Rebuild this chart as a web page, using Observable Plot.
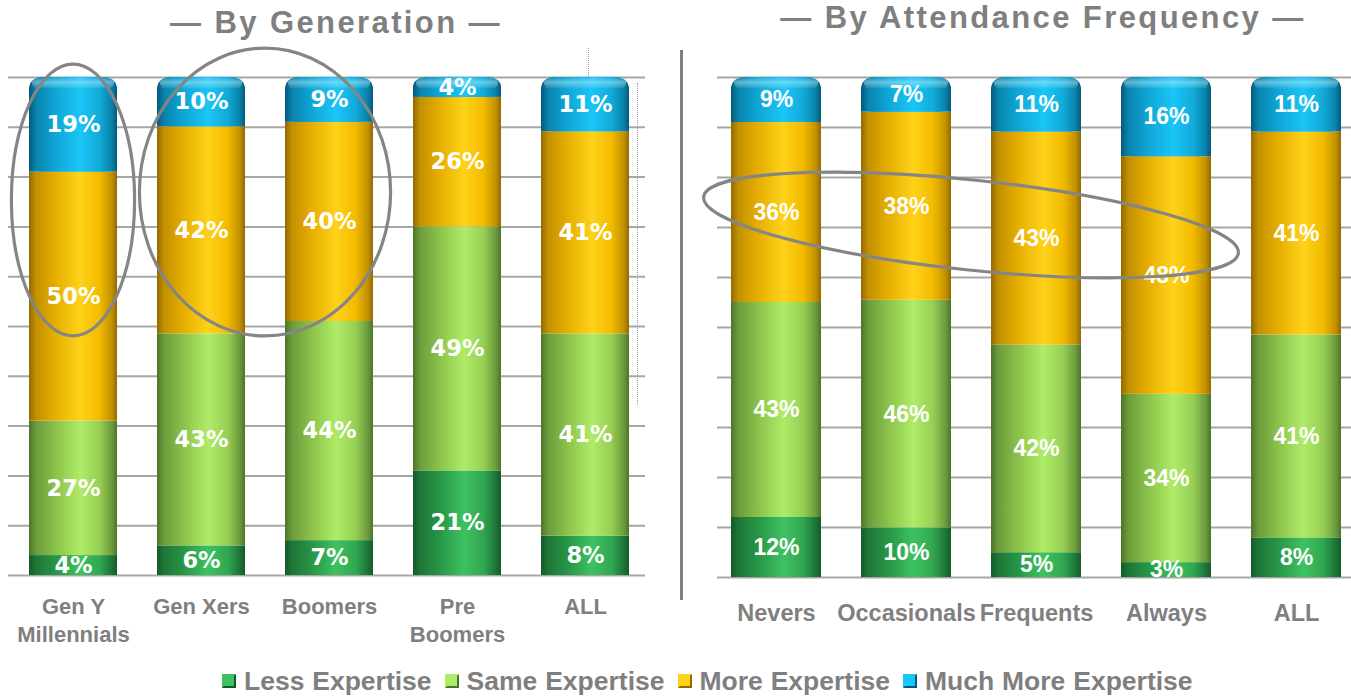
<!DOCTYPE html>
<html>
<head>
<meta charset="utf-8">
<script src="https://cdn.jsdelivr.net/npm/d3@7"></script>
<script src="https://cdn.jsdelivr.net/npm/@observablehq/plot@0.6"></script>
<style>
  html, body { margin: 0; padding: 0; background: #fff; overflow: hidden; }
  #root { position: relative; width: 1351px; height: 696px; overflow: hidden; background: #fff; }
  .title { position: absolute; font: bold 31px "Liberation Sans", Arial, sans-serif; line-height: 31px;
           color: #7f7f7f; letter-spacing: 2.4px; white-space: nowrap; transform: translateX(-50%); }
  .panel { position: absolute; top: 0; }
  #sep { position: absolute; left: 680px; top: 50px; width: 3px; height: 550px; background: #808080; }
  .dot { position: absolute; width: 0; border-left: 1.5px dotted #9a9a9a; }
  #legend { position: absolute; left: 222px; top: 666px; display: flex; align-items: center;
            font: bold 26.5px "Liberation Sans", Arial, sans-serif; word-spacing: 0.5px; color: #7f7f7f; white-space: nowrap; line-height: 30px; }
  .item { display: flex; align-items: center; margin-right: 13px; }
  .sw { width: 10px; height: 10px; border: 2px solid; margin-right: 8px; }
</style>
</head>
<body>
<svg width="0" height="0" style="position:absolute">
  <defs>
    <linearGradient id="gLess" x1="0" y1="0" x2="1" y2="0">
      <stop offset="0" stop-color="#145a28"/><stop offset="0.08" stop-color="#1d7637"/>
      <stop offset="0.3" stop-color="#279546"/><stop offset="0.58" stop-color="#3ec261"/>
      <stop offset="0.8" stop-color="#31a752"/><stop offset="0.94" stop-color="#1d7638"/>
      <stop offset="1" stop-color="#145a28"/>
    </linearGradient>
    <linearGradient id="gSame" x1="0" y1="0" x2="1" y2="0">
      <stop offset="0" stop-color="#4b742a"/><stop offset="0.08" stop-color="#6c9c3b"/>
      <stop offset="0.3" stop-color="#8bc24a"/><stop offset="0.58" stop-color="#afec67"/>
      <stop offset="0.8" stop-color="#97cf55"/><stop offset="0.94" stop-color="#6c9b3d"/>
      <stop offset="1" stop-color="#4b742a"/>
    </linearGradient>
    <linearGradient id="gMore" x1="0" y1="0" x2="1" y2="0">
      <stop offset="0" stop-color="#936900"/><stop offset="0.08" stop-color="#c29000"/>
      <stop offset="0.3" stop-color="#e6ae00"/><stop offset="0.58" stop-color="#ffd21a"/>
      <stop offset="0.8" stop-color="#f2bb00"/><stop offset="0.94" stop-color="#c39100"/>
      <stop offset="1" stop-color="#936900"/>
    </linearGradient>
    <linearGradient id="gMuch" x1="0" y1="0" x2="1" y2="0">
      <stop offset="0" stop-color="#045a78"/><stop offset="0.08" stop-color="#0983ad"/>
      <stop offset="0.3" stop-color="#0fa6d6"/><stop offset="0.58" stop-color="#1ac5f7"/>
      <stop offset="0.8" stop-color="#11abd9"/><stop offset="0.94" stop-color="#0982ab"/>
      <stop offset="1" stop-color="#045a78"/>
    </linearGradient>
    <linearGradient id="gCap" x1="0" y1="0" x2="0" y2="1">
      <stop offset="0" stop-color="#ffffff" stop-opacity="0"/>
      <stop offset="0.45" stop-color="#bff4ff" stop-opacity="0.45"/>
      <stop offset="1" stop-color="#ffffff" stop-opacity="0"/>
    </linearGradient>
  </defs>
</svg>
<div id="root">
  <div class="title" style="left:336px; top:7px">— By Generation —</div>
  <div class="title" style="left:1043px; top:2px">— By Attendance Frequency —</div>
  <div id="sep"></div>
  <div class="dot" style="left:588px; top:48px; height:29px"></div>
  <div class="dot" style="left:637px; top:83px; height:322px"></div>
  <div id="legend"></div>
</div>
<script>
// ---------- data ----------
const series = ["Less Expertise", "Same Expertise", "More Expertise", "Much More Expertise"];
const seriesFill = ["url(#gLess)", "url(#gSame)", "url(#gMore)", "url(#gMuch)"];
const swatchColors = [["#3ec261", "#145a28"], ["#afec67", "#4b742a"], ["#ffd21a", "#936900"], ["#1ac5f7", "#045a78"]];

const generations = ["Gen Y\nMillennials", "Gen Xers", "Boomers", "Pre\nBoomers", "ALL"];
const genLess = [4, 6, 7, 21, 8];
const genSame = [27, 43, 44, 49, 41];
const genMore = [50, 42, 40, 26, 41];
const genMuch = [19, 10, 9, 4, 11];

const attendance = ["Nevers", "Occasionals", "Frequents", "Always", "ALL"];
const attLess = [12, 10, 5, 3, 8];
const attSame = [43, 46, 42, 34, 41];
const attMore = [36, 38, 43, 48, 41];
const attMuch = [9, 7, 11, 16, 11];

const gridValues = [0, 10, 20, 30, 40, 50, 60, 70, 80, 90, 100];

// highlight ellipses anchored to categories / values
const genEllipses = [
  {from: "Gen Y\nMillennials", to: "Gen Y\nMillennials", pad: 0.2, y: 75.3, ry: 27.3, angle: 0},
  {from: "Gen Xers", to: "Boomers", pad: 0.2, y: 76.9, ry: 28.9, angle: 0}
];
const attEllipses = [
  {from: "Nevers", to: "Always", pad: 0.32, y: 70.4, ry: 9.0, angle: 6.0}
];

// ---------- helpers ----------
function stackRows(cats, lists) {
  const rows = [];
  cats.forEach((cat, i) => {
    const vals = lists.map(l => l[i]);
    const total = d3.sum(vals);
    let cum = 0;
    vals.forEach((v, j) => {
      rows.push({cat, series: series[j], si: j, value: v, y1: 100 * cum / total, y2: 100 * (cum + v) / total});
      cum += v;
    });
  });
  return rows;
}

function ellipseMark(specs) {
  return (index, scales) => {
    const x = scales.x, y = scales.y;
    const bw = typeof x.bandwidth === "function" ? x.bandwidth() : scales.scales.x.bandwidth;
    const g = d3.create("svg:g");
    for (const s of specs) {
      const x0 = x(s.from), x1 = x(s.to) + bw;
      const cx = (x0 + x1) / 2, rx = (x1 - x0) / 2 + s.pad * bw;
      const cy = y(s.y), ry = Math.abs(y(0) - y(s.ry));
      g.append("ellipse")
        .attr("cx", cx).attr("cy", cy).attr("rx", rx).attr("ry", ry)
        .attr("transform", `rotate(${s.angle} ${cx} ${cy})`)
        .attr("fill", "none").attr("stroke", "#858585").attr("stroke-width", 3.2);
    }
    return g.node();
  };
}

function panel({cats, lists, width, marginLeft, marginRight, marginBottom, padInner,
                gridInsetLeft, gridInsetRight, labelFont, labelSize, axisSize, tickPadding, ellipses}) {
  const rows = stackRows(cats, lists);
  const much = rows.filter(d => d.si === 3);
  const marks = [
    Plot.ruleY(gridValues, {stroke: "#a6a6a6", strokeWidth: 2, insetLeft: gridInsetLeft, insetRight: gridInsetRight})
  ];
  for (let j = 0; j < 3; j++) {
    marks.push(Plot.barY(rows.filter(d => d.si === j), {x: "cat", y1: "y1", y2: "y2", fill: seriesFill[j]}));
  }
  marks.push(Plot.barY(much, {x: "cat", y1: "y1", y2: "y2", fill: seriesFill[3], rx: 12}));
  marks.push(Plot.barY(much, {x: "cat", y1: "y1", y2: d => (d.y1 + d.y2) / 2, fill: seriesFill[3]}));
  marks.push(Plot.barY(much, {x: "cat", y1: "y2", y2: "y2", insetBottom: -12, insetLeft: 3, insetRight: 3, rx: 6, fill: "url(#gCap)"}));
  marks.push(Plot.text(rows, {
    x: "cat", y: d => (d.y1 + d.y2) / 2, text: d => d.value + "%",
    fill: "white", fontSize: labelSize, fontWeight: "bold", fontFamily: labelFont, clip: "frame"
  }));
  marks.push(Plot.axisX({tickSize: 0, tickPadding, fontSize: axisSize, fontWeight: "bold",
    fontFamily: "Liberation Sans, Arial, sans-serif", lineHeight: 1.27, label: null}));
  marks.push(ellipseMark(ellipses));
  return Plot.plot({
    width, height: 650,
    marginTop: 77, marginBottom, marginLeft, marginRight,
    x: {domain: cats, paddingInner: padInner, paddingOuter: 0, axis: null},
    y: {domain: [0, 100], axis: null},
    style: {fontFamily: "Liberation Sans, Arial, sans-serif", color: "#7f7f7f", overflow: "visible", background: "transparent"},
    marks
  });
}

// ---------- render ----------
const root = document.getElementById("root");

const left = panel({
  cats: generations, lists: [genLess, genSame, genMore, genMuch],
  width: 670, marginLeft: 29, marginRight: 41, marginBottom: 75, padInner: 40 / 128,
  gridInsetLeft: -21, gridInsetRight: -16,
  labelFont: "DejaVu Sans, Verdana, sans-serif", labelSize: 22.5, axisSize: 22, tickPadding: 19,
  ellipses: genEllipses
});
left.classList.add("panel");
left.style.left = "0px";
root.appendChild(left);

const right = panel({
  cats: attendance, lists: [attLess, attSame, attMore, attMuch],
  width: 661, marginLeft: 41, marginRight: 10, marginBottom: 73, padInner: 40 / 130,
  gridInsetLeft: -14, gridInsetRight: -10,
  labelFont: "Liberation Sans, Arial, sans-serif", labelSize: 23, axisSize: 23.5, tickPadding: 22,
  ellipses: attEllipses
});
right.classList.add("panel");
right.style.left = "690px";
root.appendChild(right);

// legend
const legend = document.getElementById("legend");
series.forEach((s, i) => {
  const item = document.createElement("div");
  item.className = "item";
  const sw = document.createElement("div");
  sw.className = "sw";
  const [light, dark] = swatchColors[i];
  sw.style.background = light;
  sw.style.borderColor = `${light} ${dark} ${dark} ${light}`;
  const t = document.createElement("span");
  t.textContent = s;
  item.appendChild(sw);
  item.appendChild(t);
  legend.appendChild(item);
});
</script>
</body>
</html>
